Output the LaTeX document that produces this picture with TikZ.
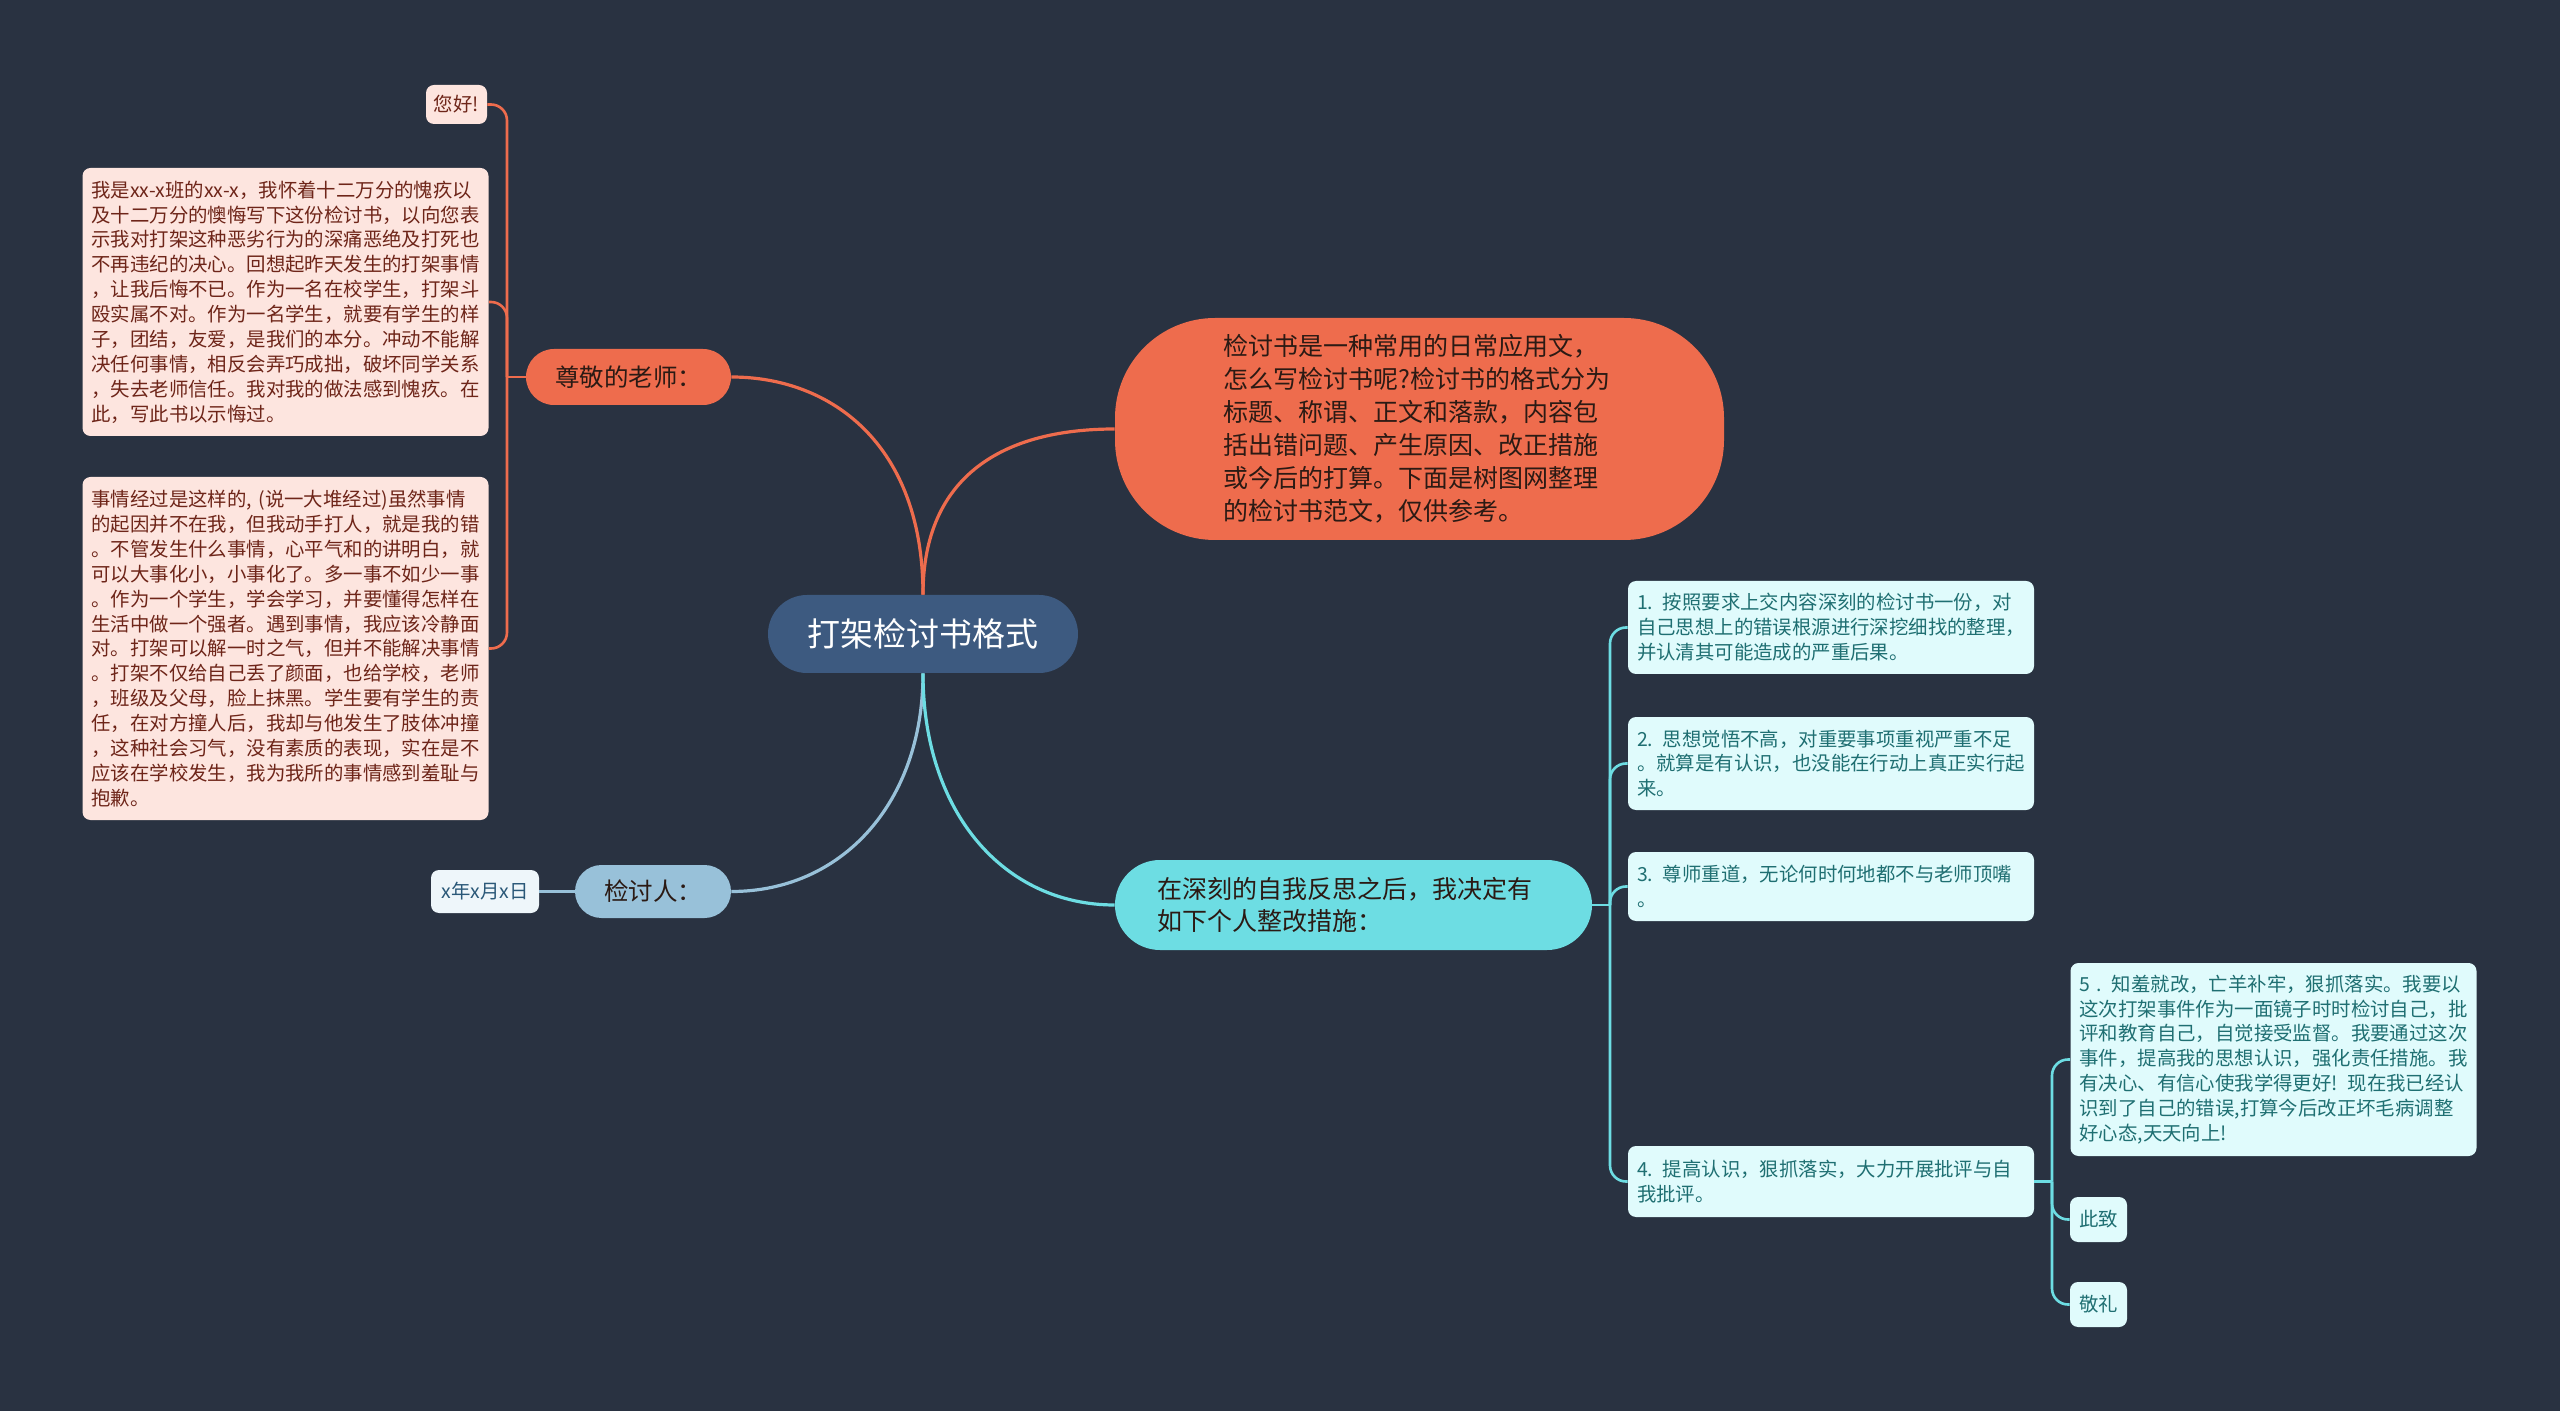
\documentclass[tikz,border=0pt]{standalone}
\usepackage{fontspec}
\setmainfont{Noto Sans CJK SC}
\definecolor{bg}{HTML}{293241}
\definecolor{navy}{HTML}{3D5A80}
\definecolor{orng}{HTML}{EE6C4D}
\definecolor{lblue}{HTML}{98C1D9}
\definecolor{cyanc}{HTML}{6DDDE3}
\definecolor{pinkf}{HTML}{FDE5DF}
\definecolor{pinkt}{HTML}{6E2519}
\definecolor{cyanf}{HTML}{E0FBFC}
\definecolor{tealt}{HTML}{1F6F72}
\definecolor{datef}{HTML}{EEF6FA}
\definecolor{datet}{HTML}{2A5878}
\definecolor{darkt}{HTML}{2B1A14}
\begin{document}
\begin{tikzpicture}[x=0.5pt,y=-0.5pt,
  smallfont/.style={font=\fontsize{9.7}{12.45}\selectfont},
  pinkbox/.style={smallfont, fill=pinkf, text=pinkt, rounded corners=4pt, text width=194pt, align=left, inner xsep=4.5pt, inner ysep=0pt},
  cyanbox/.style={smallfont, fill=cyanf, text=tealt, rounded corners=4pt, text width=194pt, align=left, inner xsep=4.5pt, inner ysep=0pt},
  pinktag/.style={smallfont, fill=pinkf, text=pinkt, rounded corners=4pt, inner sep=0pt, align=center},
  cyantag/.style={smallfont, fill=cyanf, text=tealt, rounded corners=4pt, inner sep=0pt, align=center},
  mainline/.style={line width=1.6pt},
  branch/.style={line width=1.3pt},
]
\fill[bg] (0,0) rectangle (2560,1411);
\useasboundingbox (0,0) rectangle (2560,1411);

% central
\node[fill=navy, text=white, rounded corners=19.5pt, minimum width=155pt, minimum height=39pt, inner sep=0pt,
  font=\fontsize{16.5}{20}\selectfont] (c) at (923,634) {打架检讨书格式};

% big orange
\node[fill=orng, text=darkt, rounded corners=50pt, minimum width=304.5pt, minimum height=111pt, inner sep=0pt,
  text width=196pt, align=left, font=\fontsize{12.5}{16.5}\selectfont] (o) at (1419.5,429)
  {检讨书是一种常用的日常应用文，\\怎么写检讨书呢?检讨书的格式分为\\标题、称谓、正文和落款，内容包\\括出错问题、产生原因、改正措施\\或今后的打算。下面是树图网整理\\的检讨书范文，仅供参考。};

% teacher
\node[fill=orng, text=darkt, rounded corners=14pt, minimum width=102.5pt, minimum height=28pt, inner sep=0pt,
  font=\fontsize{12.25}{15}\selectfont] (t) at (628.5,377) {尊敬的老师：};

\node[pinktag, minimum width=30.5pt, minimum height=19.5pt] (hi) at (456.5,104.5) {您好!};

\node[pinkbox, minimum height=134pt] (b1) at (285.5,302)
  {我是xx-x班的xx-x，我怀着十二万分的愧疚以\\及十二万分的懊悔写下这份检讨书，以向您表\\示我对打架这种恶劣行为的深痛恶绝及打死也\\不再违纪的决心。回想起昨天发生的打架事情\\，让我后悔不已。作为一名在校学生，打架斗\\殴实属不对。作为一名学生，就要有学生的样\\子，团结，友爱，是我们的本分。冲动不能解\\决任何事情，相反会弄巧成拙，破坏同学关系\\，失去老师信任。我对我的做法感到愧疚。在\\此，写此书以示悔过。};

\node[pinkbox, minimum height=171.5pt] (b2) at (285.5,648.5)
  {事情经过是这样的, (说一大堆经过)虽然事情\\的起因并不在我，但我动手打人，就是我的错\\。不管发生什么事情，心平气和的讲明白，就\\可以大事化小，小事化了。多一事不如少一事\\。作为一个学生，学会学习，并要懂得怎样在\\生活中做一个强者。遇到事情，我应该冷静面\\对。打架可以解一时之气，但并不能解决事情\\。打架不仅给自己丢了颜面，也给学校，老师\\，班级及父母，脸上抹黑。学生要有学生的责\\任，在对方撞人后，我却与他发生了肢体冲撞\\，这种社会习气，没有素质的表现，实在是不\\应该在学校发生，我为我所的事情感到羞耻与\\抱歉。};

% reviewer
\node[fill=lblue, text=darkt, rounded corners=13.25pt, minimum width=78pt, minimum height=26.5pt, inner sep=0pt,
  font=\fontsize{12.25}{15}\selectfont] (p) at (653,891.5) {检讨人：};
\node[smallfont, fill=datef, text=datet, rounded corners=4pt, minimum width=54pt, minimum height=21.5pt, inner sep=0pt] (d) at (485,891.5) {x年x月x日};

% measures
\node[fill=cyanc, text=darkt, rounded corners=22.5pt, minimum width=238.5pt, minimum height=45pt, inner sep=0pt,
  text width=196pt, align=left, font=\fontsize{12.5}{16.3}\selectfont] (k) at (1353.5,905)
  {在深刻的自我反思之后，我决定有\\如下个人整改措施：};

\node[cyanbox, minimum height=46.5pt] (r1) at (1831,627.5)
  {1. 按照要求上交内容深刻的检讨书一份，对\\自己思想上的错误根源进行深挖细找的整理，\\并认清其可能造成的严重后果。};
\node[cyanbox, minimum height=46.5pt] (r2) at (1831,763.5)
  {2. 思想觉悟不高，对重要事项重视严重不足\\。就算是有认识，也没能在行动上真正实行起\\来。};
\node[cyanbox, minimum height=34.5pt] (r3) at (1831,886.5)
  {3. 尊师重道，无论何时何地都不与老师顶嘴\\。};
\node[cyanbox, minimum height=35.5pt] (r4) at (1831,1181.5)
  {4. 提高认识，狠抓落实，大力开展批评与自\\我批评。};
\node[cyanbox, minimum height=96.5pt] (r5) at (2273.5,1059.5)
  {5 . 知羞就改，亡羊补牢，狠抓落实。我要以\\这次打架事件作为一面镜子时时检讨自己，批\\评和教育自己，自觉接受监督。我要通过这次\\事件，提高我的思想认识，强化责任措施。我\\有决心、有信心使我学得更好! 现在我已经认\\识到了自己的错误,打算今后改正坏毛病调整\\好心态,天天向上!};
\node[cyantag, minimum width=28.5pt, minimum height=22.5pt] (s1) at (2098.5,1219.5) {此致};
\node[cyantag, minimum width=28.5pt, minimum height=22.5pt] (s2) at (2098.5,1304.5) {敬礼};

% main curves
\draw[mainline, orng] (c.north) .. controls +(0,-120) and +(-110,0) .. (o.west);
\draw[mainline, orng] (c.north) .. controls +(0,-150) and +(100,0) .. (t.east);
\draw[mainline, lblue] (c.south) .. controls +(0,130) and +(110,0) .. (p.east);
\draw[mainline, cyanc] (c.south) .. controls +(0,140) and +(-110,0) .. (k.west);

% left group
\coordinate (lt) at (507,0);
\draw[branch, orng] (t.west) -- (t.west -| lt);
\draw[branch, orng, rounded corners=8pt] (t.west -| lt) |- (hi.east);
\draw[branch, orng, rounded corners=8pt] (t.west -| lt) |- (b1.east);
\draw[branch, orng, rounded corners=8pt] (t.west -| lt) |- (b2.east);

\draw[branch, lblue] (p.west) -- (d.east);

% right group
\coordinate (rt) at (1610,0);
\draw[branch, cyanc] (k.east) -- (k.east -| rt);
\draw[branch, cyanc, rounded corners=8pt] (k.east -| rt) |- (r1.west);
\draw[branch, cyanc, rounded corners=8pt] (k.east -| rt) |- (r2.west);
\draw[branch, cyanc, rounded corners=8pt] (k.east -| rt) |- (r3.west);
\draw[branch, cyanc, rounded corners=8pt] (k.east -| rt) |- (r4.west);

\coordinate (rt2) at (2052,0);
\draw[branch, cyanc] (r4.east) -- (r4.east -| rt2);
\draw[branch, cyanc, rounded corners=8pt] (r4.east -| rt2) |- (r5.west);
\draw[branch, cyanc, rounded corners=8pt] (r4.east -| rt2) |- (s1.west);
\draw[branch, cyanc, rounded corners=8pt] (r4.east -| rt2) |- (s2.west);
\end{tikzpicture}
\end{document}
